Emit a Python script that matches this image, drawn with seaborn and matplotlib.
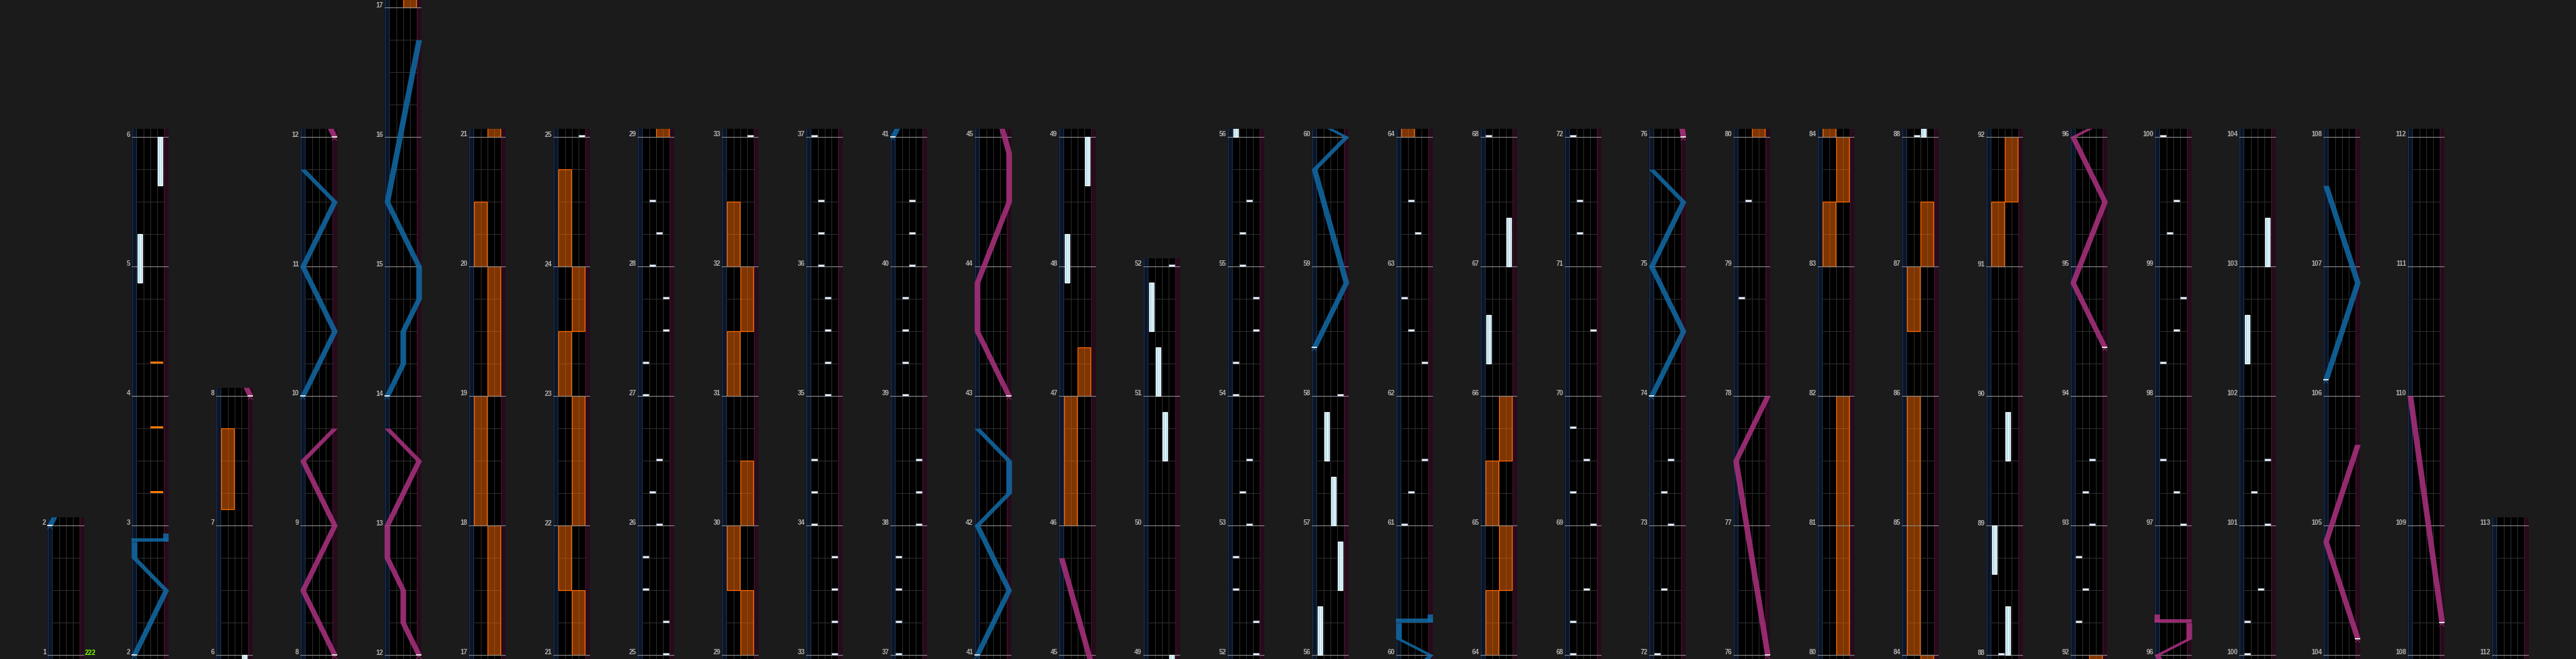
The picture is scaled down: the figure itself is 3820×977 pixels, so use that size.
import numpy as np
import matplotlib
matplotlib.use("Agg")
import matplotlib.pyplot as plt
import seaborn as sns
from matplotlib.patches import Rectangle

# ---------------- data ----------------
col_start = [1, 2, 6, 8, 12, 17, 21, 25, 29, 33, 37, 41, 45, 49, 52, 56, 60, 64, 68,
             72, 76, 80, 84, 88, 92, 96, 100, 104, 108, 112]
col_end = col_start[1:] + [113]

bpm_text = "222"

# BT chips: time (measure units), lane 0..3 (A..D)
bt_chip_time = [25.0, 25.25, 25.5, 25.75, 26.0, 26.25, 26.5, 27.0, 27.25, 27.5, 27.75, 28.0, 28.25, 28.5,
                33.0, 33.25, 33.5, 33.75, 34.0, 34.25, 34.5, 35.0, 35.25, 35.5, 35.75, 36.0, 36.25, 36.5,
                37.0, 37.25, 37.5, 37.75, 38.0, 38.25, 38.5, 39.0, 39.25, 39.5, 39.75, 40.0, 40.25, 40.5,
                52.0, 52.25, 52.5, 52.75, 53.0, 53.25, 53.5, 54.0, 54.25, 54.5, 54.75, 55.0, 55.25, 55.5,
                58.0, 61.0, 61.25, 61.5, 62.25, 62.5, 62.75, 63.25, 63.5,
                68.0, 68.25, 68.5, 69.0, 69.25, 69.5, 69.75, 70.5, 71.25, 71.5, 72.0,
                72.5, 73.0, 73.25, 73.5, 78.75, 79.5, 88.0,
                92.25, 92.5, 92.75, 93.0, 93.25, 93.5,
                97.0, 97.25, 97.5, 98.25, 98.5, 98.75, 99.25, 99.5,
                100.0, 100.25, 100.5, 101.0, 101.25, 101.5]
bt_chip_lane = [3, 3, 0, 0, 2, 1, 2, 0, 0, 3, 3, 1, 2, 1,
                3, 3, 3, 3, 0, 0, 0, 2, 2, 2, 2, 1, 1, 1,
                0, 0, 0, 0, 3, 3, 3, 1, 1, 1, 1, 2, 2, 2,
                3, 3, 0, 0, 2, 1, 2, 0, 0, 3, 3, 1, 1, 2,
                3, 0, 1, 3, 3, 1, 0, 2, 1,
                0, 0, 2, 3, 0, 2, 0, 3, 1, 1, 0,
                1, 2, 1, 2, 0, 1, 1,
                0, 1, 0, 2, 1, 2,
                3, 2, 0, 0, 2, 3, 1, 2,
                0, 0, 2, 3, 1, 3]

# BT holds
bt_hold_start = [4.875, 5.625, 47.875, 48.625, 50.5, 51.0, 51.5,
                 56.0, 56.5, 57.0, 57.5, 66.25, 67.0, 88.0, 88.625, 89.5, 102.25, 103.0]
bt_hold_end = [5.25, 6.0, 48.25, 49.0, 50.875, 51.375, 51.875,
               56.375, 56.875, 57.375, 57.875, 66.625, 67.375, 88.375, 89.0, 89.875, 102.625, 103.375]
bt_hold_lane = [0, 3, 0, 3, 2, 1, 0,
                0, 3, 2, 1, 0, 3, 2, 0, 2, 0, 3]

# FX chips: lane 0 = L, 1 = R
fx_chip_time = [3.25, 3.75, 4.25]
fx_chip_lane = [1, 1, 1]

# FX holds
fx_hold_start = [7.125, 17.0, 18.0, 19.0, 20.0, 21.0, 21.5, 22.0, 23.0, 23.5, 24.0,
                 29.0, 29.5, 30.0, 31.0, 31.5, 32.0, 46.0, 47.0,
                 64.0, 64.5, 65.0, 65.5, 80.0, 83.0, 83.5, 84.0, 86.5, 87.0, 91.0, 91.5]
fx_hold_end = [7.75, 18.0, 19.0, 20.0, 20.5, 21.5, 22.0, 23.0, 23.5, 24.0, 24.75,
               29.5, 30.0, 30.5, 31.5, 32.0, 32.5, 47.0, 47.375,
               64.5, 65.0, 65.5, 66.0, 82.0, 83.5, 84.0, 86.0, 87.0, 87.5, 91.5, 92.0]
fx_hold_lane = [0, 1, 0, 1, 0, 1, 0, 1, 0, 1, 0,
                1, 0, 1, 0, 1, 0, 0, 1,
                0, 1, 0, 1, 1, 0, 1, 0, 0, 1, 0, 1]

# Lasers: (time, position 0..1); equal consecutive times = slam
laser_left = [
    [(2.0, 0), (2.5, 1), (2.75, 0), (2.875, 0), (2.875, 1), (2.9375, 1)],
    [(10.0, 0), (10.5, 1), (11.0, 0), (11.5, 1), (11.75, 0)],
    [(14.0, 0), (14.25, 0.5), (14.5, 0.5), (14.75, 1), (15.0, 1), (15.5, 0), (16.75, 1)],
    [(41.0, 0), (41.5, 1), (42.0, 0), (42.25, 1), (42.5, 1), (42.75, 0)],
    [(58.375, 0), (58.875, 1), (59.75, 0), (60.0, 1), (60.125, 0), (60.25, 0), (60.25, 1), (60.3125, 1)],
    [(74.0, 0), (74.5, 1), (75.0, 0), (75.5, 1), (75.75, 0)],
    [(106.125, 0), (106.875, 1), (107.625, 0)],
]
laser_right = [
    [(8.0, 1), (8.5, 0), (9.0, 1), (9.5, 0), (9.75, 1)],
    [(12.0, 1), (12.25, 0.5), (12.5, 0.5), (12.75, 0), (13.0, 0), (13.5, 1), (13.75, 0)],
    [(43.0, 1), (43.5, 0), (43.875, 0), (44.5, 1), (44.875, 1), (45.75, 0)],
    [(76.0, 1), (77.5, 0), (78.0, 1)],
    [(94.375, 1), (94.875, 0), (95.5, 1), (96.0, 0), (96.125, 1), (96.25, 1), (96.25, 0), (96.3125, 0)],
    [(104.125, 1), (104.875, 0), (105.625, 1)],
    [(108.25, 1), (110.0, 0)],
]

# ---------------- style ----------------
W, H, DPI = 3820, 978, 100
PXM = 192.0          # pixels per measure
BG = "#1b1b1b"
sns.set_theme(style="dark", rc={"figure.facecolor": BG, "axes.facecolor": "black"})
plt.rcParams["font.family"] = ["Liberation Sans", "DejaVu Sans"]

BLUE = "#1268a3"
PINK = "#a8317d"
HW = 0.42            # laser half width (lane units, 1 unit = 10 px)


def lx(p):
    return 0.4 + p * 4.7


fig = plt.figure(figsize=(W / DPI, H / DPI), dpi=DPI)
fig.patch.set_facecolor(BG)

for k, (s, e) in enumerate(zip(col_start, col_end)):
    left = 70 + 125 * k
    hpx = (e - s) * PXM + 18
    ax = fig.add_axes([left / W, 0, 55 / W, hpx / H])
    ax.set_xlim(0, 5.5)
    lo, hi = s - 6 / PXM, e + 12 / PXM
    ax.set_ylim(lo, hi)
    ax.set_facecolor("black")
    for sp in ax.spines.values():
        sp.set_visible(False)
    ax.set_xticks([])
    ax.set_yticks([])
    ax.grid(False)

    # laser strips
    ax.axvspan(0, 0.75, color="#0c1526", lw=0, zorder=0.5)
    ax.axvspan(4.75, 5.5, color="#260b1b", lw=0, zorder=0.5)
    for xv, c in [(0.05, "#1c3350"), (0.72, "#1c3350"), (4.78, "#47142f"), (5.45, "#47142f")]:
        ax.axvline(xv, color=c, lw=0.8, zorder=0.6)
    # lane dividers
    for xv in (1.75, 2.75, 3.75):
        ax.axvline(xv, color="#2c2c2c", lw=0.75, zorder=0.6)
    # beat lines
    beats = np.arange(s - 1, e + 1.001, 0.25)
    sub = [b for b in beats if abs(b - round(b)) > 1e-6]
    ax.hlines(sub, 0.75, 4.75, color="#2e2e2e", lw=0.75, zorder=0.7)
    meas = list(range(s, e + 1))
    ax.hlines(meas, 0, 5.5, color="#8c8c8c", lw=0.8, zorder=2.5)

    # FX holds
    for a, b, ln in zip(fx_hold_start, fx_hold_end, fx_hold_lane):
        if b < lo or a > hi:
            continue
        cx = 1.75 if ln == 0 else 3.75
        ax.bar(cx, b - a, width=1.86, bottom=a, color=(1.0, 0.42, 0.0, 0.5),
               edgecolor="#ff6a00", lw=0.9, zorder=2)
    # FX chips
    for t, ln in zip(fx_chip_time, fx_chip_lane):
        cx = 1.75 if ln == 0 else 3.75
        ax.bar(cx, 3 / PXM, width=1.9, bottom=t, color="#ff7800", lw=0, zorder=3)
    # BT holds
    for a, b, ln in zip(bt_hold_start, bt_hold_end, bt_hold_lane):
        cx = 1.25 + ln
        ax.bar(cx, b - a, width=0.62, bottom=a, color="#b9dfec", edgecolor="#f4fbff", lw=0.9, zorder=3)
        ax.vlines(cx, a, b, color="white", lw=0.8, zorder=3.1)
    # BT chips
    for t, ln in zip(bt_chip_time, bt_chip_lane):
        cx = 1.25 + ln
        ax.bar(cx, 3 / PXM, width=0.82, bottom=t, color="#eef4fa", edgecolor="#8a96a6", lw=0.5, zorder=4)

    # lasers
    for lasers, col in ((laser_left, BLUE), (laser_right, PINK)):
        for pts in lasers:
            cur = [pts[0]]
            parts = []
            for a, b in zip(pts[:-1], pts[1:]):
                if b[0] == a[0]:
                    parts.append(cur)
                    x0, x1 = lx(a[1]), lx(b[1])
                    ax.add_patch(Rectangle((min(x0, x1) - HW, a[0]), abs(x1 - x0) + 2 * HW, 5.5 / PXM,
                                           facecolor=col, lw=0, alpha=0.88, zorder=5))
                    cur = [b]
                else:
                    cur.append(b)
            parts.append(cur)
            for p in parts:
                if len(p) < 2:
                    continue
                tt = np.array([q[0] for q in p])
                xx = np.array([lx(q[1]) for q in p])
                ax.fill_betweenx(tt, xx - HW, xx + HW, color=col, lw=0, alpha=0.88, zorder=5)
            # start marker
            t0, p0 = pts[0]
            x0 = lx(p0)
            ax.hlines(t0, x0 - 0.38, x0 + 0.38, color="white", lw=1.2, zorder=6)
            ax.plot([x0 - 0.33, x0, x0 + 0.33], [t0 - 5 / PXM, t0 - 1.5 / PXM, t0 - 5 / PXM],
                    color=col, lw=0.8, alpha=0.9, zorder=6)

    # measure numbers
    for m in meas:
        ax.text(-0.17, m + 1.5 / PXM, str(m), ha="right", va="baseline", fontsize=7,
                fontweight="bold", color="#b2b2b2", clip_on=False)
    if k == 0:
        ax.text(5.6, s + 1 / PXM, bpm_text, ha="left", va="baseline", fontsize=7,
                fontweight="bold", color="#7cfc00", clip_on=False)

fig.savefig("out.png", dpi=DPI, facecolor=BG)
